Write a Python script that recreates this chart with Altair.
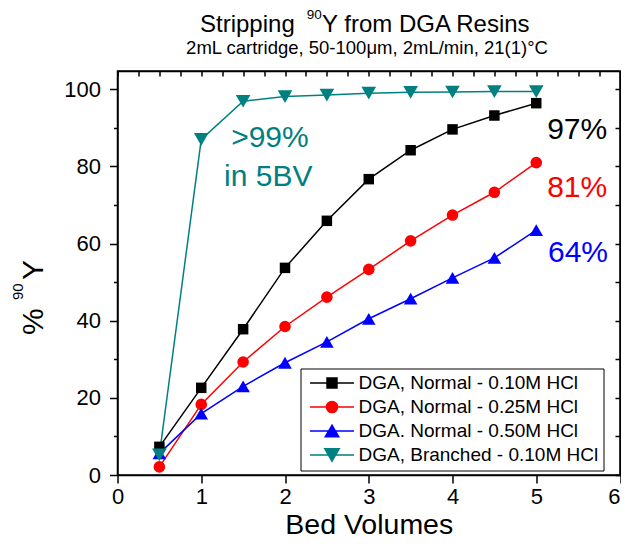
import altair as alt
import pandas as pd

# ---- data ----
bed_volumes = [0.5, 1.0, 1.5, 2.0, 2.5, 3.0, 3.5, 4.0, 4.5, 5.0]
normal_010 = [7.3, 22.6, 37.8, 53.7, 65.9, 76.7, 84.2, 89.6, 93.2, 96.4]
normal_025 = [2.1, 18.3, 29.3, 38.5, 46.1, 53.3, 60.7, 67.4, 73.3, 81.0]
normal_050 = [5.6, 15.9, 23.0, 29.1, 34.5, 40.5, 45.7, 51.1, 56.3, 63.5]
branched_010 = [5.2, 87.0, 96.9, 98.1, 98.5, 99.0, 99.2, 99.3, 99.4, 99.4]

series_names = [
    "DGA, Normal - 0.10M HCl",
    "DGA, Normal - 0.25M HCl",
    "DGA. Normal - 0.50M HCl",
    "DGA, Branched - 0.10M HCl",
]
series_colors = ["#000000", "#FF0000", "#0000FF", "#008080"]
series_shapes = ["square", "circle", "triangle-up", "triangle-down"]
series_sizes = [110, 135, 185, 215]
legend_paths = [
    "M-3,0H3M-0.68,-0.68H0.68V0.68H-0.68Z",
    "M-3,0H3M-0.76,0A0.76,0.76,0,1,0,0.76,0A0.76,0.76,0,1,0,-0.76,0Z",
    "M-3,0H3M0,-0.8L0.92,0.8L-0.92,0.8Z",
    "M-3,0H3M0,0.84L0.98,-0.84L-0.98,-0.84Z",
]

annot_text = ["97%", "81%", "64%", ">99%", "in 5BV"]
annot_x = [5.13, 5.13, 5.14, 1.82, 1.80]
annot_y = [87.1, 72.1, 55.2, 85.0, 74.9]
annot_color = ["#000000", "#FF0000", "#0000FF", "#008080", "#008080"]
annot_align = ["left", "left", "left", "center", "center"]

title_parts = ["Stripping", "90", "Y from DGA Resins"]
subtitle_text = "2mL cartridge, 50-100\u03bcm, 2mL/min, 21(1)\u00b0C"
ytitle_parts = ["%", "90", "Y"]

x_ticks = [i * 0.25 for i in range(25)]
y_ticks = [i * 10 for i in range(11)]

FONT = "Liberation Sans"

rows = []
for name, vals in zip(series_names, [normal_010, normal_025, normal_050, branched_010]):
    for bv, v in zip(bed_volumes, vals):
        rows.append({"bv": bv, "pct": v, "series": name})
df = pd.DataFrame(rows)

xscale = alt.Scale(domain=[0, 6], nice=False, zero=False)
yscale = alt.Scale(domain=[0, 104.74], nice=False, zero=False)

x_bottom = alt.Axis(
    values=x_ticks, format="d",
    labelExpr="datum.value % 1 === 0 ? datum.label : ''",
    tickSize={"condition": {"test": "datum.value % 1 === 0", "value": 8}, "value": 4},
    labelAlign={"condition": {"test": "datum.value === 6", "value": "right"}, "value": "center"},
    labelFontSize=22, labelPadding=3, labelFlush=False, labelOverlap=False,
    title="Bed Volumes", titleFontSize=28.5, titleFontWeight="normal",
    titleBaseline="alphabetic", titleY=58.5, grid=False,
)
y_left = alt.Axis(
    values=y_ticks, format="d",
    labelExpr="datum.value % 20 === 0 ? datum.label : ''",
    tickSize={"condition": {"test": "datum.value % 20 === 0", "value": 8}, "value": 4},
    labelFontSize=22, labelPadding=9, labelOverlap=False, labelFlush=False,
    title=None, grid=False,
)
x_top = alt.Axis(orient="top", values=x_ticks, tickSize={"expr": "-5"},
                 labels=False, title=None, grid=False)
y_right = alt.Axis(orient="right", values=y_ticks, tickSize={"expr": "-5"},
                   labels=False, title=None, grid=False)

base = alt.Chart(df)
X = alt.X("bv:Q", scale=xscale, axis=x_bottom)
Y = alt.Y("pct:Q", scale=yscale, axis=y_left)

line_layers = []
point_layers = []
for name, col, shp, sz in zip(series_names, series_colors, series_shapes, series_sizes):
    sub = base.transform_filter(alt.datum.series == name)
    line_layers.append(sub.mark_line(color=col, strokeWidth=1.5).encode(x=X, y=Y))
    point_layers.append(
        sub.mark_point(filled=True, opacity=1, shape=shp, size=sz, color=col).encode(x=X, y=Y)
    )

leg = alt.Legend(
    title=None, orient="none", legendX=183, legendY=297.5,
    strokeColor="black", fillColor="white", padding=5,
    labelFont=FONT, labelFontSize=19, labelColor="black", labelLimit=400,
    symbolSize=215, symbolStrokeWidth=1.5, symbolOffset=17, labelOffset=17,
    symbolOpacity=1, rowPadding=4,
)
legend_layer = base.transform_filter("false").mark_point(filled=True, strokeWidth=1.5, opacity=1).encode(
    x=X, y=Y,
    fill=alt.Fill("series:N", scale=alt.Scale(domain=series_names, range=series_colors), legend=leg),
    stroke=alt.Stroke("series:N", scale=alt.Scale(domain=series_names, range=series_colors), legend=leg),
    shape=alt.Shape("series:N", scale=alt.Scale(domain=series_names, range=legend_paths), legend=leg),
)

texts = []
for t, ax, ay, c, al in zip(annot_text, annot_x, annot_y, annot_color, annot_align):
    tdf = pd.DataFrame({"bv": [ax], "pct": [ay], "txt": [t]})
    texts.append(
        alt.Chart(tdf).mark_text(align=al, baseline="alphabetic", fontSize=30, font=FONT, color=c)
        .encode(x=X, y=Y, text="txt:N")
    )

one = pd.DataFrame({"k": [0]})


def label(text, px, py, size, align="left", angle=0):
    return alt.Chart(one).mark_text(
        text=text, align=align, baseline="alphabetic", fontSize=size,
        font=FONT, color="black", angle=angle,
    ).encode(x=alt.value(px), y=alt.value(py))


title_layers = [
    label(title_parts[0], 82.5, -39.0, 24),
    label(title_parts[1], 189.2, -52.3, 13.5),
    label(title_parts[2], 204.5, -39.0, 24),
    label(subtitle_text, 249.5, -17.0, 18.5, align="center"),
    label(ytitle_parts[0], -74.5, 264, 30, angle=270),
    label(ytitle_parts[1], -94.2, 229, 15, angle=270),
    label(ytitle_parts[2], -74.5, 209, 30, angle=270),
]

inner = alt.layer(*line_layers, *point_layers, legend_layer, *texts)

axes_layer = base.transform_filter("false").mark_point().encode(
    x=alt.X("bv:Q", scale=xscale, axis=x_top),
    y=alt.Y("pct:Q", scale=yscale, axis=y_right),
)

chart = (
    alt.layer(inner, axes_layer, *title_layers)
    .resolve_scale(x="independent", y="independent")
    .properties(
        width=502.5, height=404,
        padding={"left": 109.5, "top": 63, "right": 1, "bottom": 64},
        autosize=alt.AutoSizeParams(type="none"),
    )
    .configure(font=FONT)
    .configure_view(stroke="black", strokeWidth=1.5)
    .configure_axis(
        domainColor="black", domainWidth=1.5, tickColor="black", tickWidth=1.5,
        labelColor="black", titleColor="black", labelFont=FONT, titleFont=FONT,
    )
)

chart.save("out.html", embed_options={"renderer": "svg", "actions": False})
